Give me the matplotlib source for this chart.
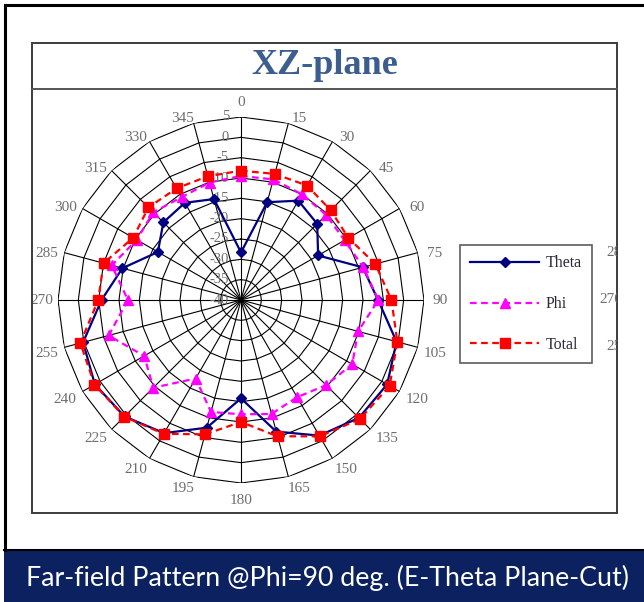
import numpy as np
import matplotlib
matplotlib.use("Agg")
import matplotlib.pyplot as plt
from matplotlib.patches import Rectangle
from matplotlib.lines import Line2D
from matplotlib.transforms import offset_copy

# far-field pattern, dB, every 15 degrees
angles = np.arange(0, 360, 15)
theta = [-28.3, -15.1, -11.8, -13.5, -18.1, -9.0, -6.3, -0.4, 1.5, 1.0, -1.5, -6.5,
         -15.8, -7.5, -2.2, 0.5, 1.5, 0.2, -5.7, -9.8, -16.4, -13.0, -12.4, -14.3]
phi = [-9.5, -9.3, -10.0, -10.4, -10.6, -8.9, -6.2, -10.2, -8.4, -10.4, -12.4, -11.0,
       -11.9, -11.5, -17.7, -9.5, -12.5, -6.3, -12.2, -7.1, -10.4, -9.5, -10.8, -10.1]
total = [-8.2, -7.9, -7.5, -8.8, -9.5, -5.8, -3.0, -0.2, 2.2, 1.4, -1.3, -5.3,
         -10.0, -5.8, -2.0, 0.6, 1.6, 0.9, -4.9, -5.0, -9.4, -7.8, -8.3, -8.5]
r_ticks = [5, 0, -5, -10, -15, -20, -25, -30, -35, -40]

W, H = 644, 602
def fx(x):
    return x / W
def fy(y):
    return 1 - y / H

fig = plt.figure(figsize=(W / 100, H / 100), dpi=100)
fig.patch.set_facecolor('white')

serif = 'Liberation Serif'
grey = '#6e6e6e'

# outer frame and bottom band
fig.add_artist(Line2D([fx(5), fx(5)], [fy(5), fy(550)], color='black', lw=2.2))
fig.add_artist(Line2D([fx(5), fx(644)], [fy(5), fy(5)], color='black', lw=2.2))
fig.add_artist(Rectangle((fx(4), 0), 1, fy(550), facecolor='#0b2160',
                         edgecolor='none', transform=fig.transFigure))
fig.add_artist(Line2D([fx(4), fx(644)], [fy(549.5), fy(549.5)], color='black', lw=1.5))
fig.text(fx(327), fy(578), 'Far-field Pattern @Phi=90 deg. (E-Theta Plane-Cut)',
         color='white', fontsize=19.3, family='Lato', ha='center', va='center')

# chart box
box = Rectangle((fx(32), fy(513)), fx(617) - fx(32), fy(43) - fy(513),
                facecolor='none', edgecolor='#3c3c3c', lw=1.4, transform=fig.transFigure)
fig.add_artist(box)
fig.add_artist(Line2D([fx(32), fx(617)], [fy(89), fy(89)], color='#555555', lw=1.4))
fig.text(fx(325), fy(66), 'XZ-plane', family=serif, weight='bold', fontsize=26,
         color='#3b5e8f', ha='center', va='center')

# polar plot, centre (241, 300), outer ring radius 183 px
cx, cy, R = 241, 300, 183
ax = fig.add_axes([fx(cx - R), fy(cy + R), 2 * R / W, 2 * R / H], projection='polar')
ax.set_theta_zero_location('N')
ax.set_theta_direction(-1)
ax.set_ylim(-40, 5)
ax.grid(False)
ax.set_xticks([])
ax.set_yticks([])
ax.spines['polar'].set_visible(False)
ax.patch.set_alpha(0)

rad = np.deg2rad(np.append(angles, 360))
for r in r_ticks[:-1]:
    ax.plot(rad, [r] * len(rad), color='black', lw=0.8, zorder=1)
for a in angles:
    ax.plot([np.deg2rad(a)] * 2, [-40, 5], color='black', lw=0.8, zorder=1)

lbl_tr = offset_copy(ax.transData, fig=fig, x=-12, y=0, units='dots')
for r in r_ticks:
    ax.text(0, r, str(r), transform=lbl_tr, ha='right', va='center',
            family=serif, fontsize=10.5, color=grey, zorder=2)

# category labels, nudged the way the spreadsheet places them
r_lab = -40 + 45 * 199 / R
for a in angles:
    s, c = np.sin(np.deg2rad(a)), np.cos(np.deg2rad(a))
    if a % 180 == 0:
        dx, dy = 0, 2
    elif a % 180 == 90:
        dx, dy = 0, 0
    else:
        dx, dy = 7 * np.sign(s) * abs(c), 3.5 + 7.5 * c
    tr = offset_copy(ax.transData, fig=fig, x=dx, y=-dy, units='dots')
    t = ax.text(np.deg2rad(a), r_lab, str(a), transform=tr, ha='center', va='center',
                family=serif, fontsize=11, color=grey)
    t.set_clip_path(box)

def closed(v):
    return np.append(v, v[0])

l1, = ax.plot(rad, closed(theta), color='#000080', lw=1.6, marker='D',
              markersize=5.5, zorder=3, label='Theta')
l2, = ax.plot(rad, closed(phi), color='#ff00ff', lw=1.6, ls=(0, (3, 2)), marker='^',
              markersize=7.5, zorder=4, label='Phi')
l3, = ax.plot(rad, closed(total), color='#ff0000', lw=1.6, ls=(0, (3, 2)), marker='s',
              markersize=7.5, zorder=5, label='Total')
for l in (l1, l2, l3):
    l.set_markevery(list(range(len(angles))))
    l.set_clip_on(False)

leg = fig.legend(handles=[l1, l2, l3], loc='upper left',
                 bbox_to_anchor=(fx(460), fy(245)), frameon=True, fancybox=False,
                 borderaxespad=0, borderpad=0.65, handlelength=4.3, handletextpad=0.4,
                 labelspacing=1.55, prop={'family': serif, 'size': 11.5})
leg.get_frame().set_edgecolor('#333333')
leg.get_frame().set_linewidth(1.2)
for t in leg.get_texts():
    t.set_color('#2a2a3a')

# clipped labels of the neighbouring chart
for txt, x, y in [('285', 606, 252), ('270', 599, 300), ('255', 606, 347)]:
    t = fig.text(fx(x), fy(y), txt, family=serif, fontsize=11, color=grey,
                 ha='left', va='center')
    t.set_clip_path(box)

fig.savefig('out.png', dpi=100)
